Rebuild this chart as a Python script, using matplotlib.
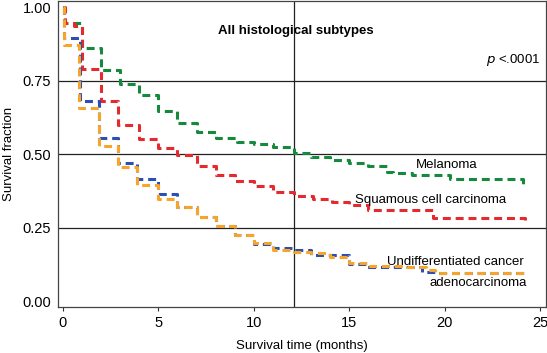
import matplotlib
matplotlib.use("Agg")
from matplotlib import pyplot as plt

plt.rcParams['font.family'] = ['Liberation Sans', 'DejaVu Sans']

# Kaplan-Meier steps: time of each drop (months) and survival after it
mel_t = [0, 0.05, 1.0, 2.0, 3.0, 4.0, 5.0, 6.0, 7.0, 8.0, 9.1, 10.0, 11.0, 12.1,
         13.0, 14.0, 15.0, 16.0, 17.0, 17.3, 18.3, 20.3, 24.1, 24.2]
mel_s = [1.0, 0.945, 0.86, 0.785, 0.74, 0.70, 0.646, 0.606, 0.575, 0.556, 0.54, 0.534, 0.524, 0.503,
         0.49, 0.48, 0.47, 0.46, 0.44, 0.435, 0.43, 0.415, 0.395, 0.395]

sq_t = [0, 0.1, 0.6, 1.0, 2.0, 2.9, 4.0, 5.0, 6.0, 7.0, 8.0, 9.0, 10.0, 11.0, 12.1,
        13.1, 14.1, 15.0, 16.0, 19.4, 24.2]
sq_s = [1.0, 0.945, 0.935, 0.79, 0.68, 0.60, 0.55, 0.52, 0.497, 0.46, 0.43, 0.41, 0.39, 0.37, 0.357,
        0.347, 0.337, 0.326, 0.31, 0.281, 0.277]

und_t = [0, 0.05, 0.9, 1.9, 2.9, 3.9, 5.0, 6.0, 7.0, 8.0, 9.0, 10.0, 11.0, 12.1,
         13.0, 15.0, 15.9, 18.8, 19.6, 24.2]
und_s = [1.0, 0.894, 0.68, 0.555, 0.47, 0.415, 0.364, 0.32, 0.285, 0.255, 0.224, 0.194, 0.18, 0.175,
         0.158, 0.125, 0.116, 0.10, 0.094, 0.085]

ade_t = [0, 0.05, 0.85, 1.9, 2.9, 3.9, 5.0, 6.0, 7.0, 8.0, 9.0, 10.0, 11.0, 12.1,
         13.0, 14.0, 15.0, 16.0, 18.0, 19.0, 19.5, 24.2]
ade_s = [1.0, 0.87, 0.656, 0.527, 0.456, 0.395, 0.347, 0.32, 0.286, 0.255, 0.224, 0.197, 0.174, 0.168,
         0.163, 0.15, 0.13, 0.12, 0.115, 0.105, 0.097, 0.093]

xticks = [0, 5, 10, 15, 20, 25]
yticks = [0.0, 0.25, 0.5, 0.75, 1.0]

fig = plt.figure(figsize=(5.47, 3.53), dpi=100)
ax = fig.add_axes([0.106, 0.130, 0.892, 0.867])

for y in [0.25, 0.5, 0.75]:
    ax.axhline(y, color='#222222', lw=0.9, zorder=1)
ax.axvline(12.1, color='#222222', lw=0.9, zorder=1)

dash = (0, (2.6, 1.6))
ax.step(mel_t, mel_s, where='post', color='#168a3c', lw=2.2, ls=dash, zorder=3)
ax.step(sq_t, sq_s, where='post', color='#e52a2f', lw=2.2, ls=dash, zorder=3)
ax.step(und_t, und_s, where='post', color='#2c4fb5', lw=2.2, ls=dash, zorder=3)
ax.step(ade_t, ade_s, where='post', color='#f7a52a', lw=2.2, ls=dash, zorder=4)

ax.set_xlim(-0.26, 25.3)
ax.set_ylim(-0.0204, 1.0204)
ax.set_xticks(xticks)
ax.set_yticks(yticks)
ax.set_yticklabels(['0.00', '0.25', '0.50', '0.75', '1.00'])
ax.tick_params(labelsize=10.5, length=3, color='#333333')
ax.tick_params(axis='y', length=0, pad=5)
for s in ax.spines.values():
    s.set_color('#444444')
    s.set_linewidth(0.9)

ax.set_xlabel('Survival time (months)', fontsize=9.5, labelpad=7)
ax.set_ylabel('Survival fraction', fontsize=9.5)
ax.yaxis.set_label_coords(-0.088, 0.5)

ax.text(12.2, 0.92, 'All histological subtypes', fontsize=9.5, fontweight='bold',
        ha='center', va='center')
ax.text(25.0, 0.82, r'$\it{p}$ <.0001', fontsize=9.5, ha='right', va='center')
ax.text(18.5, 0.463, 'Melanoma', fontsize=9.5, va='center')
ax.text(15.3, 0.343, 'Squamous cell carcinoma', fontsize=9.5, va='center')
ax.text(17.0, 0.133, 'Undifferentiated cancer', fontsize=9.5, va='center')
ax.text(19.2, 0.061, 'adenocarcinoma', fontsize=9.5, va='center')

fig.savefig('out.png', dpi=100)
